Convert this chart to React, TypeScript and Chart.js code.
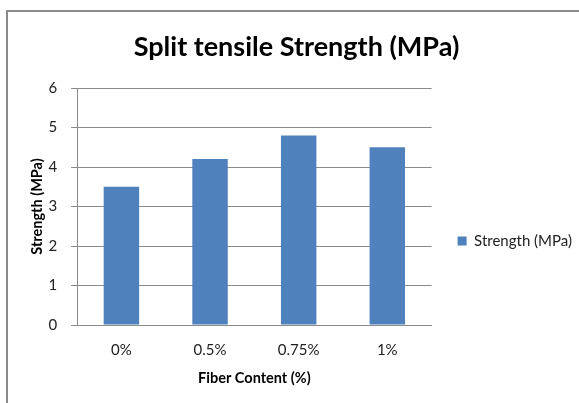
import React, { useEffect, useRef } from "react";
import { Chart, registerables } from "chart.js";

Chart.register(...registerables);

const categories = ["0%", "0.5%", "0.75%", "1%"];
const strengthValues = [3.5, 4.2, 4.8, 4.5];
const seriesLabel = "Strength (MPa)";
const chartTitle = "Split tensile Strength (MPa)";
const xTitle = "Fiber Content (%)";
const yTitle = "Strength (MPa)";

const FONT = "Lato, 'Open Sans', sans-serif";

const framePlugin = {
  id: "frame",
  beforeDraw(chart: any) {
    const ctx = chart.ctx;
    ctx.save();
    ctx.fillStyle = "#ffffff";
    ctx.fillRect(0, 0, chart.width, chart.height);
    ctx.strokeStyle = "#8a8a8a";
    ctx.lineWidth = 2;
    ctx.beginPath();
    ctx.moveTo(7, chart.height);
    ctx.lineTo(7, 11);
    ctx.lineTo(chart.width, 11);
    ctx.stroke();
    ctx.restore();
  },
};

export default function App() {
  const ref = useRef<HTMLCanvasElement | null>(null);
  useEffect(() => {
    if (!ref.current) return;
    const chart = new Chart(ref.current, {
      type: "bar",
      data: {
        labels: categories,
        datasets: [
          {
            label: seriesLabel,
            data: strengthValues,
            backgroundColor: "#4F81BD",
            borderWidth: 0,
            categoryPercentage: 1,
            barPercentage: 0.4,
          },
        ],
      },
      plugins: [framePlugin],
      options: {
        animation: false,
        responsive: false,
        maintainAspectRatio: false,
        layout: { padding: { left: 11, right: -3, top: 0, bottom: 15.6 } },
        plugins: {
          title: {
            display: true,
            text: chartTitle,
            color: "#000",
            font: { family: FONT, size: 27, weight: "bold" },
            padding: { top: 30.8, bottom: 24.8 },
          },
          legend: {
            position: "right",
            align: "center",
            maxWidth: 170,
            title: { display: true, text: "", font: { size: 14 }, padding: { top: 78, bottom: 0 } },
            labels: {
              boxWidth: 9,
              boxHeight: 9,
              padding: 26,
              color: "#222",
              font: { family: FONT, size: 15 },
            },
          },
          tooltip: { enabled: false },
        },
        scales: {
          x: {
            grid: { display: false, drawTicks: false, tickLength: 0 },
            border: { display: true, color: "#8a8a8a", width: 1 },
            ticks: { color: "#222", font: { family: FONT, size: 15 }, padding: 16 },
            title: {
              display: true,
              text: xTitle,
              color: "#000",
              font: { family: FONT, size: 14.5, weight: "bold" },
              padding: { top: -5, bottom: 0 },
            },
          },
          y: {
            min: 0,
            max: 6,
            ticks: { stepSize: 1, color: "#222", font: { family: FONT, size: 15 }, padding: 14 },
            grid: { color: "#8a8a8a", tickLength: 6, drawTicks: true },
            border: { display: true, color: "#8a8a8a", width: 1 },
            title: {
              display: true,
              text: yTitle,
              color: "#000",
              font: { family: FONT, size: 14.5, weight: "bold" },
              padding: { top: 18, bottom: -12 },
            },
          },
        },
      },
    });
    return () => chart.destroy();
  }, []);
  return (
    <div style={{ position: "absolute", left: 0, top: 0, width: 579, height: 403 }}>
      <canvas ref={ref} width={579} height={403} style={{ width: 579, height: 403, display: "block" }} />
    </div>
  );
}
